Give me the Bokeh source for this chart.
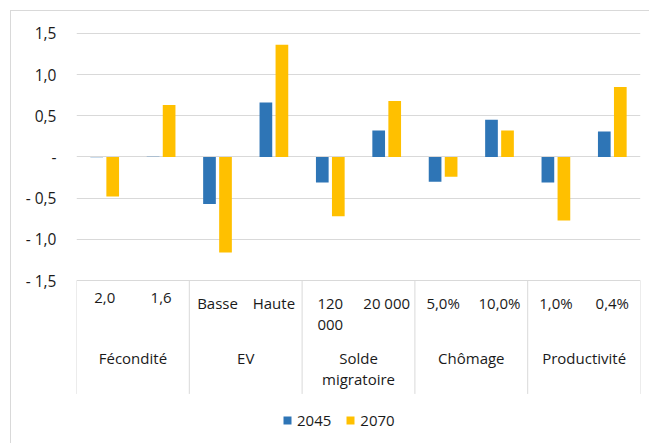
from bokeh.plotting import figure
from bokeh.models import Range1d, FixedTicker, Legend, LegendItem, ColumnDataSource
from bokeh.core.properties import value
from bokeh.embed import file_html
from bokeh.resources import INLINE

# ---- data ----
groups = ["Fécondité", "EV", "Solde\nmigratoire", "Chômage", "Productivité"]
subcats = ["2,0", "1,6", "Basse", "Haute", "120\n000", "20 000", "5,0%", "10,0%", "1,0%", "0,4%"]
v2045 = [-0.004, 0.002, -0.57, 0.66, -0.31, 0.32, -0.30, 0.45, -0.31, 0.31]
v2070 = [-0.48, 0.63, -1.16, 1.36, -0.72, 0.68, -0.24, 0.32, -0.77, 0.85]
series = ["2045", "2070"]
yticks = [-1.5, -1.0, -0.5, 0.0, 0.5, 1.0, 1.5]
ytick_labels = ["- 1,5", "- 1,0", "- 0,5", "-", "0,5", "1,0", "1,5"]

# ---- style ----
BLUE = "#2E75B6"
GOLD = "#FFC000"
GRID = "#D9D9D9"
TXT = "#1A1A1A"
FONT = "Open Sans"
FS = "15px"

n = len(subcats)
per_group = n // len(groups)
OFF = 0.142
BW = 0.225

p = figure(width=639, height=433, output_backend="svg", toolbar_location=None,
           x_range=Range1d(0, n), y_range=Range1d(-3.44, 1.51),
           x_axis_location=None, min_border_left=65, min_border_right=10,
           min_border_top=21, min_border_bottom=4)
p.styles = {"margin-left": "10px", "margin-top": "10px",
            "border-left": f"1px solid {GRID}", "border-top": f"1px solid {GRID}"}
p.outline_line_color = None
p.xgrid.visible = False
p.ygrid.ticker = FixedTicker(ticks=yticks)
p.ygrid.grid_line_color = GRID
p.ygrid.grid_line_width = 1

ax = p.yaxis[0]
ax.ticker = FixedTicker(ticks=yticks)
ax.major_label_overrides = {t: l for t, l in zip(yticks, ytick_labels)}
ax.axis_line_color = None
ax.major_tick_line_color = None
ax.minor_tick_line_color = None
ax.major_tick_out = 0
ax.major_tick_in = 0
ax.major_label_standoff = 20
ax.major_label_text_font = FONT
ax.major_label_text_font_size = "15.5px"
ax.major_label_text_color = TXT

centers = [i + 0.5 for i in range(n)]
src = ColumnDataSource(dict(x1=[c - OFF for c in centers], x2=[c + OFF for c in centers],
                            v1=v2045, v2=v2070))
r1 = p.vbar(x="x1", top="v1", bottom=0, width=BW, source=src, fill_color=BLUE, line_color=None)
r2 = p.vbar(x="x2", top="v2", bottom=0, width=BW, source=src, fill_color=GOLD, line_color=None)

# category table below the plot
YB = yticks[0]
bounds = [g * per_group for g in range(len(groups) + 1)]
p.segment(x0=bounds, x1=bounds, y0=[YB] * len(bounds), y1=[YB - 1.375] * len(bounds),
          line_color=GRID, line_width=1)
p.text(x=centers, y=[YB] * n, text=subcats, text_align="center", text_baseline="top",
       y_offset=12, text_font=value(FONT), text_font_size=FS, text_color=TXT,
       text_line_height=1.05)
gcenters = [(g + 0.5) * per_group for g in range(len(groups))]
p.text(x=gcenters, y=[YB] * len(groups), text=groups, text_align="center", text_baseline="top",
       y_offset=67, text_font=value(FONT), text_font_size=FS, text_color=TXT,
       text_line_height=1.05)

legend = Legend(items=[LegendItem(label=series[0], renderers=[r1]),
                       LegendItem(label=series[1], renderers=[r2])],
                orientation="horizontal", location=(206, 10),
                glyph_width=10, glyph_height=10, label_standoff=5, spacing=14,
                padding=0, margin=0, border_line_color=None, background_fill_alpha=0,
                label_text_font=FONT, label_text_font_size=FS, label_text_color=TXT)
p.add_layout(legend, "center")

open("out.html", "w").write(file_html(p, INLINE))
